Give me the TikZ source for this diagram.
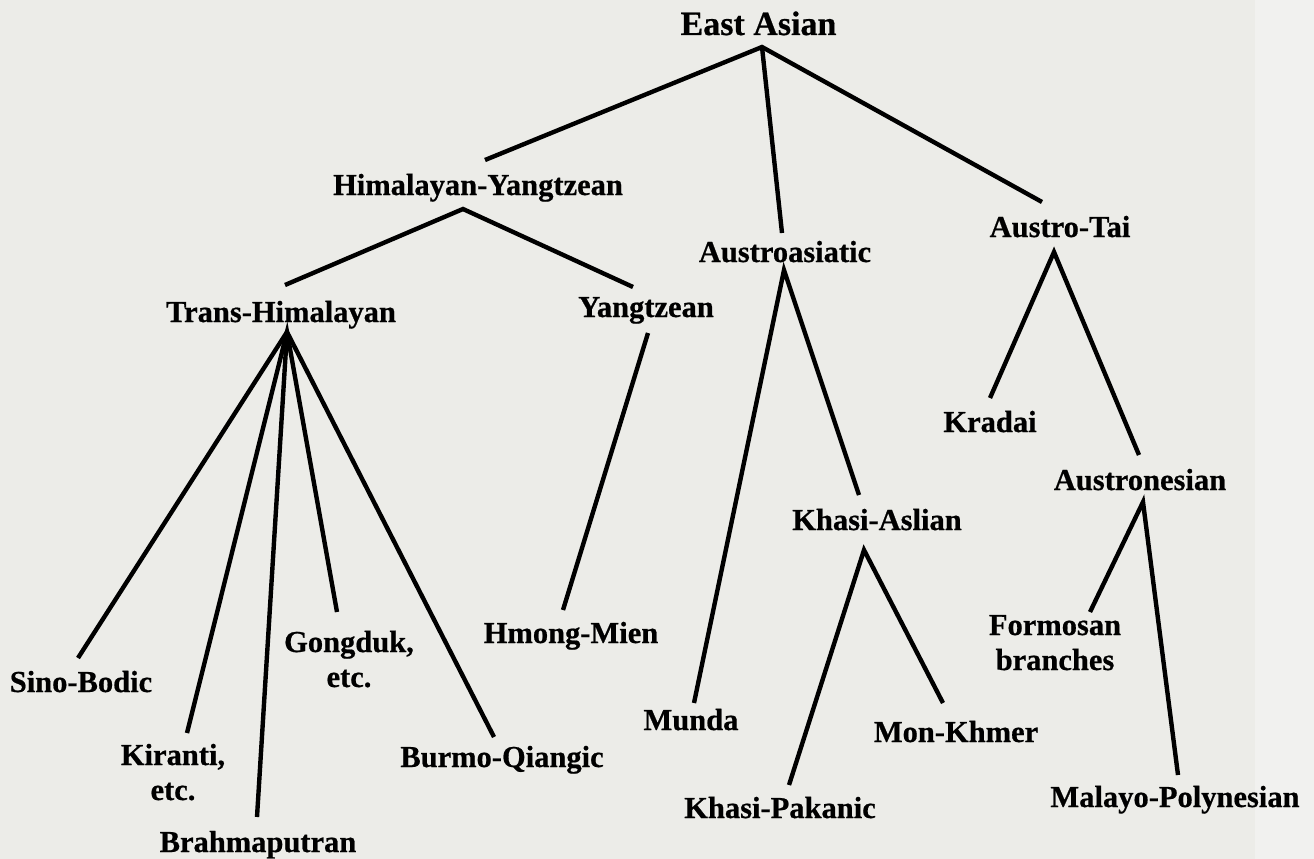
\documentclass[tikz,border=0pt]{standalone}
\usepackage{fontspec}
\setmainfont{Liberation Serif}[BoldFeatures={FakeBold=0.6}]
\definecolor{paper}{RGB}{236,236,232}
\definecolor{paperlight}{RGB}{241,241,239}
\begin{document}
\begin{tikzpicture}[x=1pt,y=-1pt,
  lbl/.style={anchor=base,inner sep=0pt,outer sep=0pt,align=center,
              font=\bfseries\fontsize{30.5}{35}\selectfont},
  rootlbl/.style={lbl,font=\bfseries\fontsize{34}{40}\selectfont},
  branch/.style={line width=4.4pt,line join=miter,line cap=butt}]
\fill[paper] (0,0) rectangle (1314,859);
\fill[paperlight] (1255,0) rectangle (1314,859);
\useasboundingbox (0,0) rectangle (1314,859);

% labels (anchor = baseline of the last line)
\node[rootlbl] (ea) at (758.5,35) {East Asian};
\node[lbl] (hy) at (478,195) {Himalayan-Yangtzean};
\node[lbl] (aa) at (785,262) {Austroasiatic};
\node[lbl] (at) at (1060,237) {Austro-Tai};
\node[lbl] (th) at (281,322) {Trans-Himalayan};
\node[lbl] (yz) at (646,317) {Yangtzean};
\node[lbl] (hm) at (571,643) {Hmong-Mien};
\node[lbl] (sb) at (81,692) {Sino-Bodic};
\node[lbl] (ki) at (173,800) {Kiranti,\\etc.};
\node[lbl] (br) at (258,852) {Brahmaputran};
\node[lbl] (go) at (349,687) {Gongduk,\\etc.};
\node[lbl] (bq) at (502,767) {Burmo-Qiangic};
\node[lbl] (mu) at (691,730) {Munda};
\node[lbl] (ka) at (877,530) {Khasi-Aslian};
\node[lbl] (kp) at (780,818) {Khasi-Pakanic};
\node[lbl] (mk) at (956,742) {Mon-Khmer};
\node[lbl] (kr) at (990,432) {Kradai};
\node[lbl] (an) at (1140,490) {Austronesian};
\node[lbl] (fo) at (1055,670) {Formosan\\branches};
\node[lbl] (mp) at (1175,807) {Malayo-Polynesian};

% branches
\draw[branch] ([shift={(7,-35)}]hy.base) -- ([shift={(3.5,12)}]ea.base) -- ([shift={(-18,-35)}]at.base);
\draw[branch] ([shift={(3.5,12)}]ea.base) -- ([shift={(-3,-29)}]aa.base);

\draw[branch] ([shift={(4,-37)}]th.base) -- ([shift={(-15,14)}]hy.base) -- ([shift={(-13,-30)}]yz.base);

\draw[branch] ([shift={(-3,-34)}]sb.base) -- ([shift={(6,10)}]th.base) -- ([shift={(-8,-30)}]bq.base);
\draw[branch] ([shift={(14,-67)}]ki.base) -- ([shift={(6,10)}]th.base) -- ([shift={(-12,-75)}]go.base);
\draw[branch] ([shift={(6,10)}]th.base) -- ([shift={(-1,-35)}]br.base);

\draw[branch] ([shift={(2,16)}]yz.base) -- ([shift={(-8,-33)}]hm.base);

\draw[branch] ([shift={(3,-27)}]mu.base) -- ([shift={(-1,8)}]aa.base) -- ([shift={(-18,-35)}]ka.base);
\draw[branch] ([shift={(9,-33)}]kp.base) -- ([shift={(-13,20)}]ka.base) -- ([shift={(-13,-39)}]mk.base);

\draw[branch] ([shift={(0,-34)}]kr.base) -- ([shift={(-6,15)}]at.base) -- ([shift={(-1,-35)}]an.base);
\draw[branch] ([shift={(35,-58)}]fo.base) -- ([shift={(3,12)}]an.base) -- ([shift={(3,-32)}]mp.base);
\end{tikzpicture}
\end{document}
